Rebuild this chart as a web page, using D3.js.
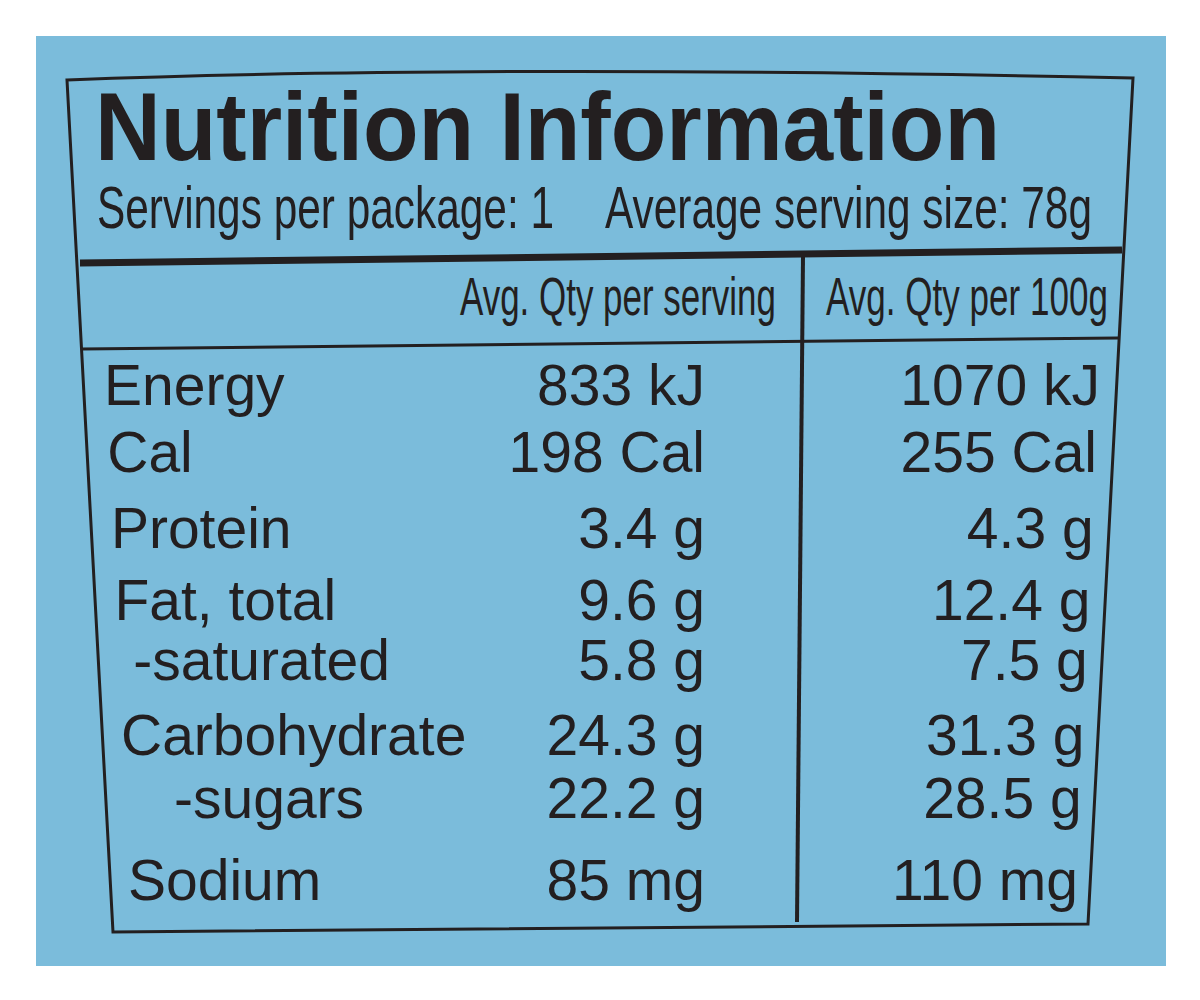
<!DOCTYPE html>
<html><head><meta charset="utf-8">
<script src="https://cdn.jsdelivr.net/npm/d3@7"></script>
<style>body{margin:0;background:#fff}</style>
</head><body><svg></svg>
<script>
const nutrients = ['Energy', 'Cal', 'Protein', 'Fat, total', '-saturated', 'Carbohydrate', '-sugars', 'Sodium'];
const perServing = ['833 kJ', '198 Cal', '3.4 g', '9.6 g', '5.8 g', '24.3 g', '22.2 g', '85 mg'];
const per100g = ['1070 kJ', '255 Cal', '4.3 g', '12.4 g', '7.5 g', '31.3 g', '28.5 g', '110 mg'];
const indent = [0, 0, 0, 0, 1, 0, 2, 0];
const headers = ['Avg. Qty per serving', 'Avg. Qty per 100g'];

window.onload = () => {
  const svg = d3.select('svg').attr('width', 1200).attr('height', 1000);
  const ink = '#231f20';

  svg.append('rect').attr('x', 36).attr('y', 36).attr('width', 1130).attr('height', 930).attr('fill', '#7bbcdb');

  // outline of the label, slightly in perspective
  svg.append('path')
    .attr('d', 'M67,80 Q480,64 1133,78 L1088,924 L113,932 Z')
    .attr('fill', 'none').attr('stroke', ink).attr('stroke-width', 3);
  svg.append('line').attr('x1', 80).attr('y1', 263).attr('x2', 1122).attr('y2', 250)
    .attr('stroke', ink).attr('stroke-width', 7);
  svg.append('line').attr('x1', 82).attr('y1', 349).attr('x2', 1118).attr('y2', 338)
    .attr('stroke', ink).attr('stroke-width', 3);
  svg.append('line').attr('x1', 803).attr('y1', 256).attr('x2', 797).attr('y2', 922)
    .attr('stroke', ink).attr('stroke-width', 4);

  svg.append('text').attr('x', 95).attr('y', 160)
    .attr('font-family', 'Liberation Sans, Arial').attr('font-weight', 'bold')
    .attr('font-size', 96).attr('fill', ink).attr('textLength', 905).attr('lengthAdjust', 'spacingAndGlyphs')
    .text('Nutrition Information');
  svg.append('text').attr('x', 97).attr('y', 228)
    .attr('font-family', 'Liberation Sans Narrow, Liberation Sans').attr('font-size', 60).attr('fill', ink)
    .attr('textLength', 457).attr('lengthAdjust', 'spacingAndGlyphs')
    .text('Servings per package: 1');
  svg.append('text').attr('x', 605).attr('y', 228)
    .attr('font-family', 'Liberation Sans Narrow, Liberation Sans').attr('font-size', 60).attr('fill', ink)
    .attr('textLength', 487).attr('lengthAdjust', 'spacingAndGlyphs')
    .text('Average serving size: 78g');

  const hx = d3.scaleOrdinal().domain(headers).range([776, 1108]);
  const hw = d3.scaleOrdinal().domain(headers).range([316, 282]);
  svg.selectAll('.hdr').data(headers).enter().append('text')
    .attr('class', 'hdr')
    .attr('x', d => hx(d) - hw(d)).attr('y', 315)
    .attr('font-family', 'Liberation Sans Narrow, Liberation Sans').attr('font-size', 53).attr('fill', ink)
    .attr('textLength', d => hw(d)).attr('lengthAdjust', 'spacingAndGlyphs')
    .text(d => d);

  const y = d3.scaleOrdinal().domain(nutrients).range([405, 472, 548, 620, 680, 755, 818, 900]);
  const labelX = d3.scaleLinear().domain([405, 900]).range([104, 128]);
  const indentW = d3.scaleOrdinal().domain([0, 1, 2]).range([0, 16, 50]);
  const col1 = d3.scaleLinear().domain([405, 900]).range([705, 705]);
  const col2 = d3.scaleLinear().domain([405, 900]).range([1100, 1078]);

  const rows = svg.selectAll('.row').data(nutrients).enter().append('g').attr('class', 'row')
    .attr('font-family', 'Liberation Sans, Arial').attr('font-size', 57).attr('fill', ink);
  rows.append('text')
    .attr('x', (d, i) => labelX(y(d)) + indentW(indent[i])).attr('y', d => y(d))
    .text(d => d);
  rows.append('text').attr('text-anchor', 'end')
    .attr('x', d => col1(y(d))).attr('y', d => y(d))
    .text((d, i) => perServing[i]);
  rows.append('text').attr('text-anchor', 'end')
    .attr('x', d => col2(y(d))).attr('y', d => y(d))
    .text((d, i) => per100g[i]);
};
</script>
</body></html>
